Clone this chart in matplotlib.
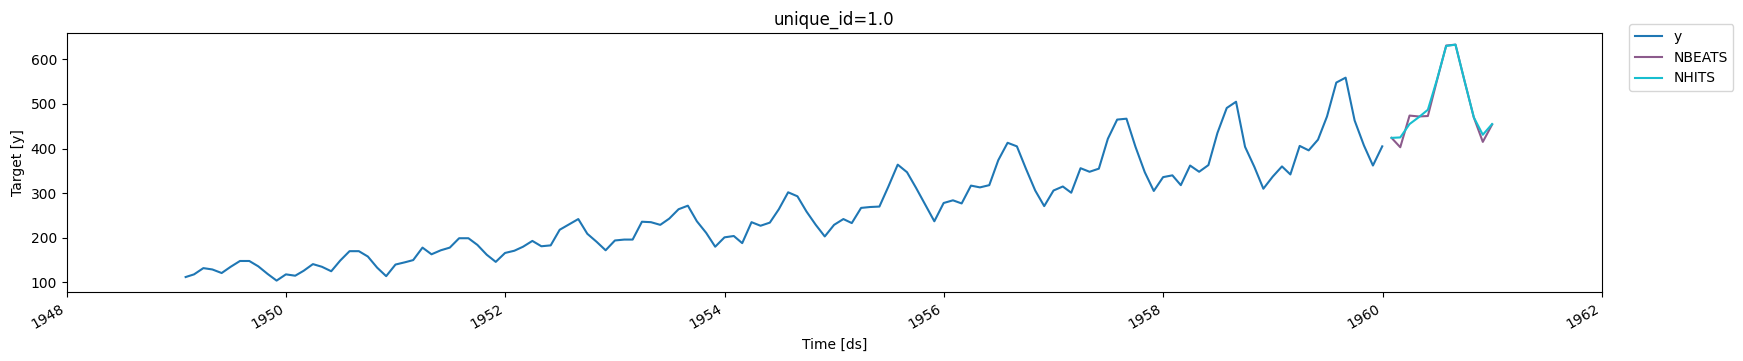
import numpy as np
import pandas as pd
import matplotlib
matplotlib.use("Agg")
import matplotlib.pyplot as plt
import matplotlib.dates as mdates

# AirPassengers history, 1949-01 .. 1959-12 (month-end stamps)
y_values = [
    112, 118, 132, 129, 121, 135, 148, 148, 136, 119, 104, 118,
    115, 126, 141, 135, 125, 149, 170, 170, 158, 133, 114, 140,
    145, 150, 178, 163, 172, 178, 199, 199, 184, 162, 146, 166,
    171, 180, 193, 181, 183, 218, 230, 242, 209, 191, 172, 194,
    196, 196, 236, 235, 229, 243, 264, 272, 237, 211, 180, 201,
    204, 188, 235, 227, 234, 264, 302, 293, 259, 229, 203, 229,
    242, 233, 267, 269, 270, 315, 364, 347, 312, 274, 237, 278,
    284, 277, 317, 313, 318, 374, 413, 405, 355, 306, 271, 306,
    315, 301, 356, 348, 355, 422, 465, 467, 404, 347, 305, 336,
    340, 318, 362, 348, 363, 435, 491, 505, 404, 359, 310, 337,
    360, 342, 406, 396, 420, 472, 548, 559, 463, 407, 362, 405,
]
# forecasts for 1960
nbeats = [424, 403, 474, 472, 473, 552, 631, 633, 552, 470, 415, 454]
nhits = [424, 425, 455, 470, 487, 554, 630, 633, 552, 470, 431, 455]

ds_hist = pd.date_range("1949-01-31", periods=len(y_values), freq="ME")
ds_fcst = pd.date_range("1960-01-31", periods=len(nbeats), freq="ME")

fig = plt.figure(figsize=(17.43, 3.61), dpi=100)
ax = fig.add_axes([0.0383, 0.190, 0.8808, 0.719])

ax.plot(ds_hist, y_values, color="#1f77b4", label="y")
ax.plot(ds_fcst, nbeats, color="#8c5b8c", label="NBEATS")
ax.plot(ds_fcst, nhits, color="#17becf", label="NHITS")

ax.set_xlim(pd.Timestamp("1948-01-01"), pd.Timestamp("1962-01-01"))
ax.xaxis.set_major_locator(mdates.YearLocator(2))
ax.xaxis.set_major_formatter(mdates.DateFormatter("%Y"))
for lbl in ax.get_xticklabels():
    lbl.set_rotation(30)
    lbl.set_ha("right")

ax.set_title("unique_id=1.0")
ax.set_xlabel("Time [ds]")
ax.set_ylabel("Target [y]")

fig.legend(loc="upper left", bbox_to_anchor=(0.9346, 0.9335), borderaxespad=0)

fig.savefig("out.png", dpi=100)
